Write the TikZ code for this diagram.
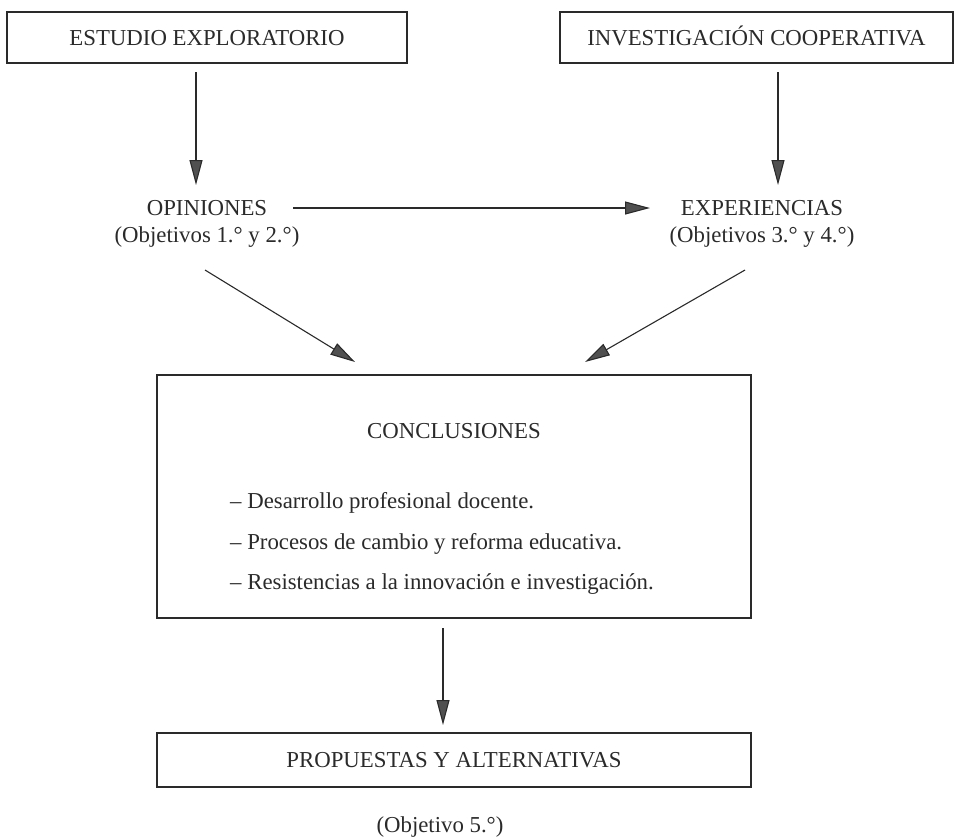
\documentclass[tikz,border=0pt]{standalone}
\usepackage{fontspec}
\setmainfont{Liberation Serif}
\usetikzlibrary{arrows.meta,calc}
\definecolor{ink}{HTML}{2A2A2A}
\definecolor{tipgray}{HTML}{505050}
\begin{document}
\begin{tikzpicture}[x=1pt,y=-1pt, font=\fontsize{22.8}{27}\selectfont, text=ink,
  box/.style={draw=ink, line width=1.1pt, minimum height=51pt, inner sep=0pt, text height=17pt, text depth=2pt},
  lbl/.style={inner sep=0pt},
  arr/.style={draw=ink, line width=1.1pt, -{Triangle[length=25pt,width=13pt,fill=tipgray]}}]
\useasboundingbox (0,0) rectangle (954,839);
\node[box, minimum width=400pt] (est) at (207,37.5) {ESTUDIO EXPLORATORIO};
\node[box, minimum width=393pt] (inv) at (756.5,37.5) {INVESTIGACIÓN COOPERATIVA};
\node[lbl] (op) at (207,208) {OPINIONES};
\node[lbl] (opo) at (207,237) {(Objetivos 1.° y 2.°)};
\node[lbl] (ex) at (762,208) {EXPERIENCIAS};
\node[lbl] (exo) at (762,237) {(Objetivos 3.° y 4.°)};
\node[box, minimum width=594pt, minimum height=243pt] (con) at (454,496.5) {};
\node[lbl] (cont) at (454,431) {CONCLUSIONES};
\node[lbl, anchor=west] (l1) at (230,503) {– Desarrollo profesional docente.};
\node[lbl, anchor=west] (l2) at (230,544) {– Procesos de cambio y reforma educativa.};
\node[lbl, anchor=west] (l3) at (230,584) {– Resistencias a la innovación e investigación.};
\node[box, minimum width=594pt, minimum height=54pt] (pro) at (454,760) {PROPUESTAS Y ALTERNATIVAS};
\node[lbl] (obj) at (440,827) {(Objetivo 5.°)};
% connector ends
\coordinate (e1s) at (196,72);
\coordinate (e1e) at (196,185);
\coordinate (e2s) at (778,72);
\coordinate (e2e) at (778,185);
\coordinate (hs) at (293,208);
\coordinate (he) at (650,208);
\coordinate (d1s) at (205,270);
\coordinate (d1e) at (355,362);
\coordinate (d2s) at (745,270);
\coordinate (d2e) at (585,362);
\coordinate (vs) at (443,628);
\coordinate (ve) at (443,725);
\draw[arr] (e1s) -- (e1e);
\draw[arr] (e2s) -- (e2e);
\draw[arr] (hs) -- (he);
\draw[arr] (d1s) -- (d1e);
\draw[arr] (d2s) -- (d2e);
\draw[arr] (vs) -- (ve);
\end{tikzpicture}
\end{document}
